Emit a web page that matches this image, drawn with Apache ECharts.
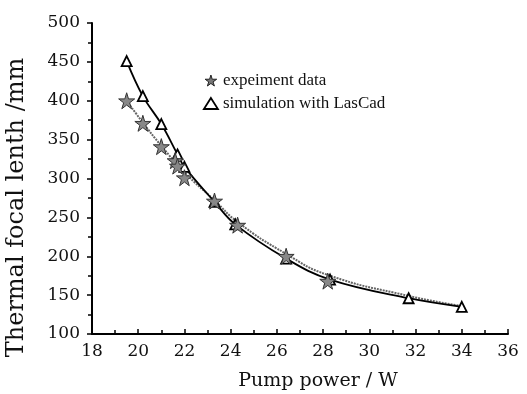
<!DOCTYPE html>
<html>
<head>
<meta charset="utf-8">
<script src="https://cdn.jsdelivr.net/npm/echarts@6/dist/echarts.min.js"></script>
<style>
  html, body { margin: 0; padding: 0; background: #fff; }
  #main { width: 527px; height: 394px; }
</style>
</head>
<body>
<div id="main"></div>
<script>
// 数据
var expData = [[19.5, 400], [20.2, 371], [21.0, 341], [21.6, 323], [21.7, 316], [22.0, 301], [23.3, 271], [24.3, 240], [26.4, 200], [28.2, 168]];
var expFit = [[19.5, 400], [20.2, 372], [21.0, 342], [22.0, 308], [23.3, 272], [24.3, 244], [26.4, 203], [28.2, 176], [31.7, 149], [34.0, 136]];
var simData = [[19.5, 451], [20.2, 406], [21.0, 370], [21.7, 331], [22.0, 315], [23.3, 270], [24.2, 241], [26.4, 197], [28.3, 170], [31.7, 146], [34.0, 135]];
var seriesNames = ['expeiment data', 'simulation with LasCad'];

var starPath = 'path://M50,0 L61,35 L98,35 L68,57 L79,91 L50,70 L21,91 L32,57 L2,35 L39,35 Z';
var legendFont = '"Liberation Serif", "DejaVu Serif", serif';
var axisFont = '"DejaVu Serif", "Liberation Serif", serif';

var myChart = echarts.init(document.getElementById('main'));
var option = {
  animation: false,
  textStyle: { fontFamily: axisFont },
  grid: { left: 92, right: 19, top: 23, bottom: 60, outerBoundsMode: 'none' },
  legend: {
    orient: 'vertical',
    left: 198,
    top: 67,
    itemGap: 6,
    itemWidth: 14,
    itemHeight: 11,
    textStyle: { fontFamily: legendFont, fontSize: 17, color: '#111' },
    data: [
      { name: seriesNames[0], icon: starPath, itemStyle: { color: '#777', borderColor: '#222', borderWidth: 1 } },
      { name: seriesNames[1], icon: 'triangle', itemStyle: { color: '#fff', borderColor: '#000', borderWidth: 1.8 } }
    ]
  },
  xAxis: {
    type: 'value',
    min: 18, max: 36, interval: 2,
    name: 'Pump power / W',
    nameLocation: 'middle',
    nameGap: 38,
    nameTextStyle: { fontFamily: axisFont, fontSize: 19, color: '#111', padding: [0, 0, 0, 36] },
    axisLine: { lineStyle: { color: '#000', width: 2 } },
    axisTick: { inside: true, length: 5, lineStyle: { color: '#000', width: 1.5 } },
    minorTick: { show: true, splitNumber: 2, length: 4, lineStyle: { color: '#000', width: 1.5 } },
    axisLabel: { fontFamily: axisFont, fontSize: 17, color: '#111', margin: 9 },
    splitLine: { show: false }
  },
  yAxis: {
    type: 'value',
    min: 100, max: 500, interval: 50,
    name: 'Thermal focal lenth /mm',
    nameLocation: 'middle',
    nameGap: 63,
    nameTextStyle: { fontFamily: axisFont, fontSize: 24, color: '#111', padding: [0, 58, 0, 0] },
    axisLine: { show: true, lineStyle: { color: '#000', width: 2 } },
    axisTick: { inside: false, length: 5, lineStyle: { color: '#000', width: 1.5 } },
    minorTick: { show: true, splitNumber: 2, length: 4, lineStyle: { color: '#000', width: 1.5 } },
    axisLabel: { fontFamily: axisFont, fontSize: 17, color: '#111', margin: 12 },
    splitLine: { show: false }
  },
  series: [
    {
      name: seriesNames[0] + ' fit',
      type: 'line',
      smooth: true,
      showSymbol: false,
      symbol: 'none',
      lineStyle: { color: '#666', width: 2, type: [2, 1] },
      data: expFit,
      z: 2
    },
    {
      name: seriesNames[1],
      type: 'line',
      smooth: 0.4,
      symbol: 'triangle',
      symbolSize: 10,
      lineStyle: { color: '#000', width: 1.8 },
      itemStyle: { color: '#fff', borderColor: '#000', borderWidth: 1.8 },
      data: simData,
      z: 3
    },
    {
      name: seriesNames[0],
      type: 'scatter',
      symbol: starPath,
      symbolSize: 16,
      itemStyle: { color: '#888', borderColor: '#333', borderWidth: 1, opacity: 1 },
      data: expData,
      z: 4
    }
  ]
};
myChart.setOption(option, true);
window.addEventListener('resize', function () {
  myChart.resize();
});
</script>
</body>
</html>
